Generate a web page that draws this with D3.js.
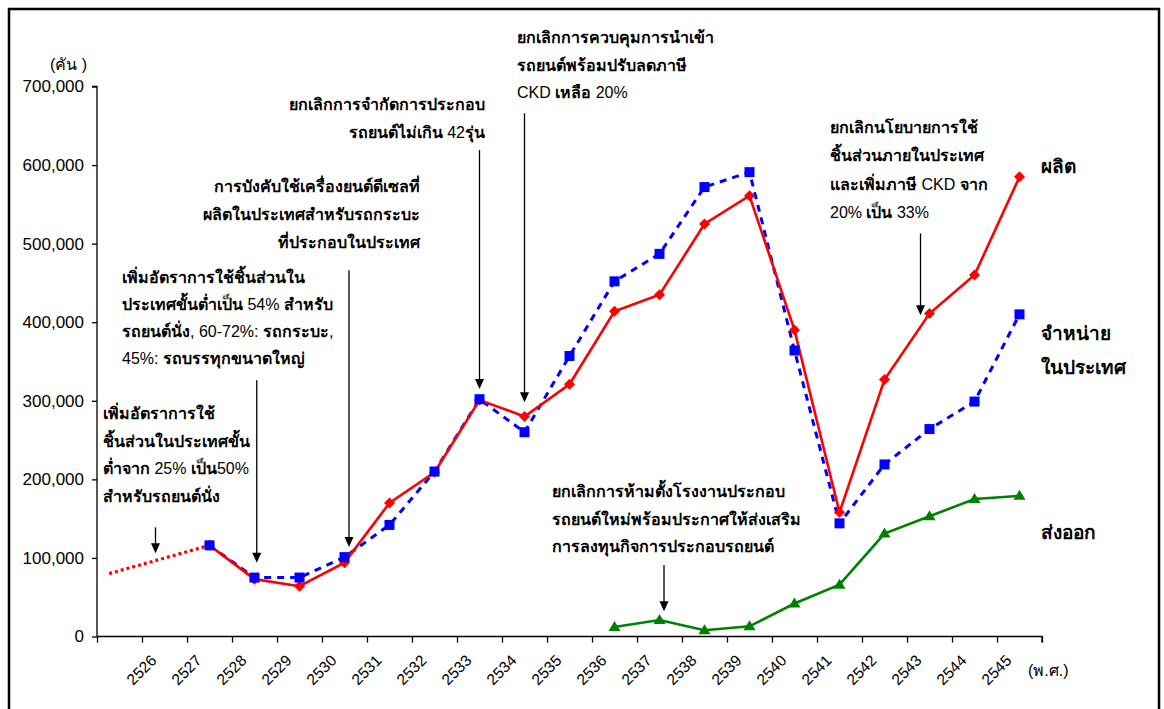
<!DOCTYPE html>
<html>
<head>
<meta charset="utf-8">
<script src="https://cdn.jsdelivr.net/npm/d3@7/dist/d3.min.js"></script>
<style>
  html, body { margin: 0; padding: 0; background: #fff; }
  svg { display: block; }
  text { font-family: Arial, "Liberation Sans", "Noto Sans", sans-serif; fill: #000; }
</style>
</head>
<body>
<svg id="chart" width="1164" height="709"></svg>
<script>
// ---------------- DATA ----------------
const categories = ["2526","2527","2528","2529","2530","2531","2532","2533","2534","2535",
                    "2536","2537","2538","2539","2540","2541","2542","2543","2544","2545"];
const years = [2527,2528,2529,2530,2531,2532,2533,2534,2535,2536,2537,2538,2539,2540,2541,2542,2543,2544,2545];
const production = [116000,73000,64000,94000,170000,209000,301000,280000,321000,414000,435000,525000,561000,390000,158000,327000,411000,460000,585000];
const domestic   = [116000,75000,75000,101000,142000,210000,302000,260000,357000,452000,487000,572000,591000,364000,144000,219000,264000,299000,410000];
const exportYears = [2536,2537,2538,2539,2540,2541,2542,2543,2544,2545];
const exportsVal  = [12000,21000,8000,13000,42000,66000,131000,153000,175000,179000];
// early (estimated) production trend, dotted
const trendYears  = [2524.77, 2527];
const trendValues = [80000, 116000];
const yTicks = [0,100000,200000,300000,400000,500000,600000,700000];
const yUnit = "(คัน )";
const xUnit = "(พ.ศ.)";
const seriesNames = { production: "ผลิต", domestic: ["จำหน่าย","ในประเทศ"], exports: "ส่งออก" };

const notes = [
  ["เพิ่มอัตราการใช้","ชิ้นส่วนในประเทศขั้น","ต่ำจาก 25% เป็น50%","สำหรับรถยนต์นั่ง"],
  ["เพิ่มอัตราการใช้ชิ้นส่วนใน","ประเทศขั้นต่ำเป็น 54% สำหรับ","รถยนต์นั่ง, 60-72%: รถกระบะ,","45%: รถบรรทุกขนาดใหญ่"],
  ["การบังคับใช้เครื่องยนต์ดีเซลที่","ผลิตในประเทศสำหรับรถกระบะ","ที่ประกอบในประเทศ"],
  ["ยกเลิกการจำกัดการประกอบ","รถยนต์ไม่เกิน 42รุ่น"],
  ["ยกเลิกการควบคุมการนำเข้า","รถยนต์พร้อมปรับลดภาษี","CKD เหลือ 20%"],
  ["ยกเลิกนโยบายการใช้","ชิ้นส่วนภายในประเทศ","และเพิ่มภาษี CKD จาก","20% เป็น 33%"],
  ["ยกเลิกการห้ามตั้งโรงงานประกอบ","รถยนต์ใหม่พร้อมประกาศให้ส่งเสริม","การลงทุนกิจการประกอบรถยนต์"]
];
// arrow targets: [year, fromValue, toValue]
const arrowYears = [2525.8, 2528.05, 2530.1, 2533, 2534, 2542.8, 2537.1];
const arrowFrom  = [139000, 326000, 466000, 619000, 666000, 513000, 91000];
const arrowTo    = [106000, 94000, 114000, 315000, 298000, 409000, 32000];

// ---------------- LAYOUT ----------------
const svg = d3.select("#chart");
const plot = { left: 97, right: 1042, top: 86.5, bottom: 636.5 };

const x = d3.scaleLinear().domain([2524.5, 2545.5]).range([plot.left, plot.right]);
const y = d3.scaleLinear().domain([0, 700000]).range([plot.bottom, plot.top]);

// frame
svg.append("rect").attr("x", 9).attr("y", 9).attr("width", 1150).attr("height", 720)
  .attr("fill", "none").attr("stroke", "#000").attr("stroke-width", 2.5);

// Y axis
const yAxis = svg.append("g").attr("transform", `translate(${plot.left},0)`)
  .call(d3.axisLeft(y).tickValues(yTicks).tickSize(5).tickPadding(8)
        .tickFormat(d3.format(",")));
yAxis.select(".domain").attr("stroke-width", 1.3).attr("d", `M-5,${plot.top}H0V${plot.bottom}`);
yAxis.selectAll(".tick line").attr("stroke-width", 1.3);
yAxis.selectAll("text").style("font-size", "17px").style("font-family", "Arial, 'Liberation Sans', sans-serif");

// X axis: ticks at year boundaries
const boundaries = d3.range(2524.5, 2546, 1);
const xAxis = svg.append("g").attr("transform", `translate(0,${plot.bottom})`)
  .call(d3.axisBottom(x).tickValues(boundaries).tickSize(6).tickFormat(""));
xAxis.select(".domain").attr("stroke-width", 1.3).attr("d", `M${plot.left},0H${plot.right}V6`);
xAxis.selectAll(".tick line").attr("stroke-width", 1.3);

svg.append("g").selectAll("text").data(categories).join("text")
  .attr("transform", d => `translate(${x(+d) - 7},${plot.bottom + 25}) rotate(-45)`)
  .attr("text-anchor", "end")
  .style("font-size", "15.5px")
  .text(d => d);

svg.append("text").attr("x", 1028).attr("y", 676).style("font-size", "16px").text(xUnit);
svg.append("text").attr("x", 50).attr("y", 70).style("font-size", "16px").text(yUnit);

// ---------------- SERIES ----------------
const line = d3.line().x(d => x(d[0])).y(d => y(d[1]));

svg.append("path").datum(d3.zip(trendYears, trendValues))
  .attr("d", line).attr("fill", "none").attr("stroke", "#FF0000")
  .attr("stroke-width", 3.2).attr("stroke-dasharray", "3,3");

svg.append("path").datum(d3.zip(years, domestic))
  .attr("d", line).attr("fill", "none").attr("stroke", "#0000FF")
  .attr("stroke-width", 3).attr("stroke-dasharray", "7,6");

svg.append("path").datum(d3.zip(years, production))
  .attr("d", line).attr("fill", "none").attr("stroke", "#FF0000")
  .attr("stroke-width", 2.6);

svg.append("path").datum(d3.zip(exportYears, exportsVal))
  .attr("d", line).attr("fill", "none").attr("stroke", "#008000")
  .attr("stroke-width", 2.6);

// markers
svg.append("g").selectAll("path").data(d3.zip(years, production)).join("path")
  .attr("transform", d => `translate(${x(d[0])},${y(d[1])})`)
  .attr("d", "M0,-5.5L5.5,0L0,5.5L-5.5,0Z").attr("fill", "#FF0000");

svg.append("g").selectAll("rect").data(d3.zip(years, domestic)).join("rect")
  .attr("x", d => x(d[0]) - 5).attr("y", d => y(d[1]) - 5)
  .attr("width", 10).attr("height", 10).attr("fill", "#0000FF");

svg.append("g").selectAll("path").data(d3.zip(exportYears, exportsVal)).join("path")
  .attr("transform", d => `translate(${x(d[0])},${y(d[1])})`)
  .attr("d", "M0,-6L6,4L-6,4Z").attr("fill", "#008000");

// ---------------- ANNOTATIONS ----------------
const isThai = c => /[\u0E00-\u0E7F]/.test(c);
function richText(sel, str) {
  const runs = [];
  for (const ch of str) {
    const t = isThai(ch);
    if (runs.length && runs[runs.length-1].thai === t) runs[runs.length-1].s += ch;
    else runs.push({ thai: t, s: ch });
  }
  runs.forEach(r => sel.append("tspan").attr("font-weight", r.thai ? "bold" : "normal").text(r.s));
}

const noteLayout = [
  { x: 103, y: 419, anchor: "start", lh: 27.5 },
  { x: 122, y: 283, anchor: "start", lh: 27 },
  { x: 420, y: 192, anchor: "end", lh: 28 },
  { x: 485, y: 110, anchor: "end", lh: 28 },
  { x: 517, y: 43, anchor: "start", lh: 27.5 },
  { x: 830, y: 133, anchor: "start", lh: 28.3 },
  { x: 552, y: 497, anchor: "start", lh: 27.5 }
];

notes.forEach((lines, i) => {
  const L = noteLayout[i];
  lines.forEach((ln, j) => {
    const t = svg.append("text").attr("x", L.x).attr("y", L.y + j * L.lh)
      .attr("text-anchor", L.anchor).style("font-size", "16px");
    richText(t, ln);
  });
});

const arrows = svg.append("g");
arrowYears.forEach((yr, i) => {
  const ax = x(yr), y1 = y(arrowFrom[i]), y2 = y(arrowTo[i]);
  arrows.append("line").attr("x1", ax).attr("x2", ax).attr("y1", y1).attr("y2", y2 - 8)
    .attr("stroke", "#000").attr("stroke-width", 1.3);
  arrows.append("path").attr("d", `M${ax - 4.5},${y2 - 10}L${ax + 4.5},${y2 - 10}L${ax},${y2}Z`)
    .attr("fill", "#000");
});

// series labels
const lab = svg.append("g").attr("font-weight", "bold").style("font-size", "19px");
lab.append("text").attr("x", 1041).attr("y", y(production[production.length-1]) - 4).text(seriesNames.production);
lab.append("text").attr("x", 1041).attr("y", 340).text(seriesNames.domestic[0]);
lab.append("text").attr("x", 1041).attr("y", 374).text(seriesNames.domestic[1]);
lab.append("text").attr("x", 1041).attr("y", 539).text(seriesNames.exports);
</script>
</body>
</html>
